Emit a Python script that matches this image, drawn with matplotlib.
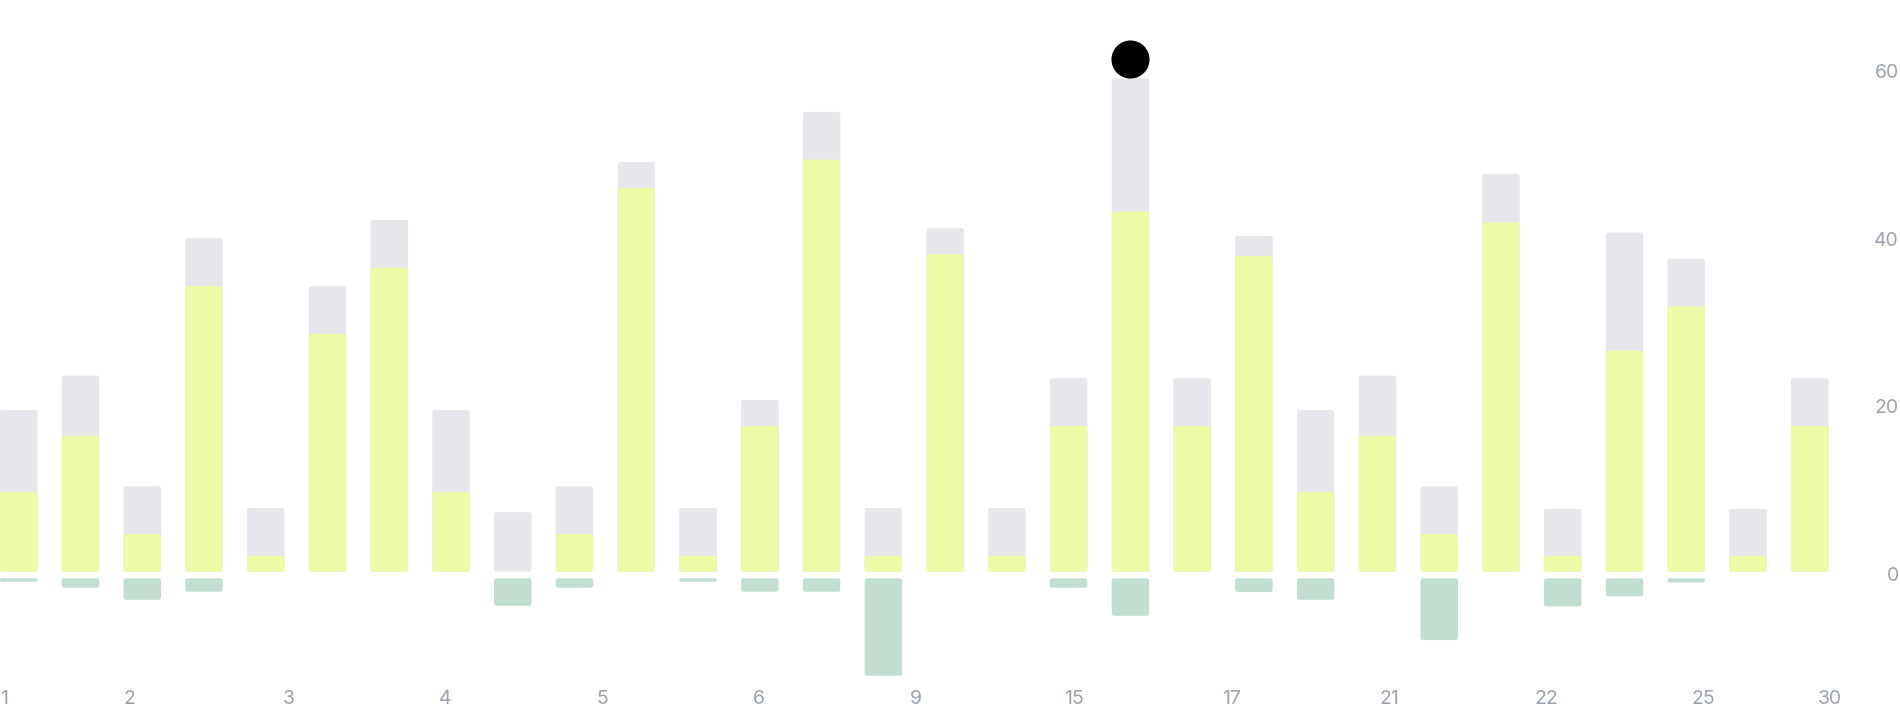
import numpy as np
import matplotlib
matplotlib.use("Agg")
import matplotlib.pyplot as plt
from matplotlib import transforms
from matplotlib.patches import FancyBboxPatch

# ---- data ------------------------------------------------------------------
days = np.arange(30)
total = [19.3, 23.4, 10.2, 39.8, 7.6, 34.1, 42.0, 19.3, 7.1, 10.2,
         48.9, 7.6, 20.5, 54.9, 7.6, 41.0, 7.6, 23.1, 58.9, 23.1,
         40.1, 19.3, 23.4, 10.2, 47.5, 7.5, 40.5, 37.4, 7.5, 23.1]
part = [9.5, 16.2, 4.5, 34.1, 1.9, 28.4, 36.3, 9.5, 0.0, 4.5,
        45.8, 1.9, 17.4, 49.2, 1.9, 37.9, 1.9, 17.4, 43.0, 17.4,
        37.7, 9.5, 16.2, 4.5, 41.7, 1.9, 26.4, 31.7, 1.9, 17.4]
loss = [0.41, 1.12, 2.56, 1.6, 0, 0, 0, 0, 3.27, 1.12,
        0, 0.41, 1.6, 1.6, 11.63, 0, 0, 1.12, 4.47, 0,
        1.64, 2.56, 0, 7.37, 0, 3.34, 2.15, 0.48, 0, 0]
marker_day = 18
marker_value = 61.2

x_labels = ["1", "2", "3", "4", "5", "6", "9", "15", "17", "21", "22", "25", "30"]
x_label_pos = [-0.24, 1.80, 4.37, 6.91, 9.45, 11.99, 14.53, 17.09,
               19.63, 22.19, 24.73, 27.28, 29.32]
y_ticks = [0, 20, 40, 60]

GRAY = "#e5e7eb"
LIME = "#edfaa6"
GREEN = "#c1ded0"
TEXT = "#9ca3af"
FONT = ["Inter", "DejaVu Sans"]

W, H = 1900, 712
BAR_W = 0.607
GAP = 0.79          # gap between zero line and the negative bars
PX_X, PX_Y = 61.75, 8.375   # pixels per data unit
RADIUS = 2.5                # corner radius in pixels

fig = plt.figure(figsize=(W / 100, H / 100), dpi=100)
ax = fig.add_axes([0, 0, 1828.5 / W, 1])
ax.set_xlim(-BAR_W / 2, 29 + BAR_W / 2)
ax.set_ylim(-16.75, 68.26)
ax.axis("off")


def rounded(container, color, z):
    # swap the plain rectangles for ones with small rounded corners
    for r in container.patches:
        x, y = r.get_x(), r.get_y()
        w, h = r.get_width(), r.get_height()
        if h < 0:
            y, h = y + h, -h
        if h == 0:
            r.set_visible(False)
            continue
        rs = min(RADIUS / PX_X, w / 2, h * PX_Y / PX_X / 2)
        p = FancyBboxPatch((x, y), w, h,
                           boxstyle=f"round,pad=0,rounding_size={rs}",
                           mutation_aspect=PX_X / PX_Y,
                           facecolor=color, edgecolor="none", zorder=z)
        ax.add_patch(p)
        r.set_visible(False)


rounded(ax.bar(days, total, width=BAR_W, color=GRAY), GRAY, 1)
rounded(ax.bar(days, part, width=BAR_W, color=LIME), LIME, 2)
loss = np.array(loss)
has = loss > 0
rounded(ax.bar(days[has], -loss[has], bottom=-GAP, width=BAR_W, color=GREEN),
        GREEN, 2)

ax.scatter([marker_day], [marker_value], s=27.4 ** 2, color="black",
           zorder=5, linewidths=0)

# y labels on the right, right-aligned to the figure edge
ytrans = transforms.blended_transform_factory(fig.transFigure, ax.transData) + \
    transforms.ScaledTranslation(0, -4 / 100, fig.dpi_scale_trans)
for v in y_ticks:
    ax.text(1899 / W, v, str(v), transform=ytrans, ha="right", va="center",
            fontsize=14, color=TEXT, family=FONT)

xtrans = transforms.blended_transform_factory(ax.transData, fig.transFigure)
for lab, pos in zip(x_labels, x_label_pos):
    ax.text(pos, 13 / H, lab, transform=xtrans, ha="center", va="center",
            fontsize=14, color=TEXT, family=FONT)

fig.savefig("out.png", dpi=100, facecolor="white")
